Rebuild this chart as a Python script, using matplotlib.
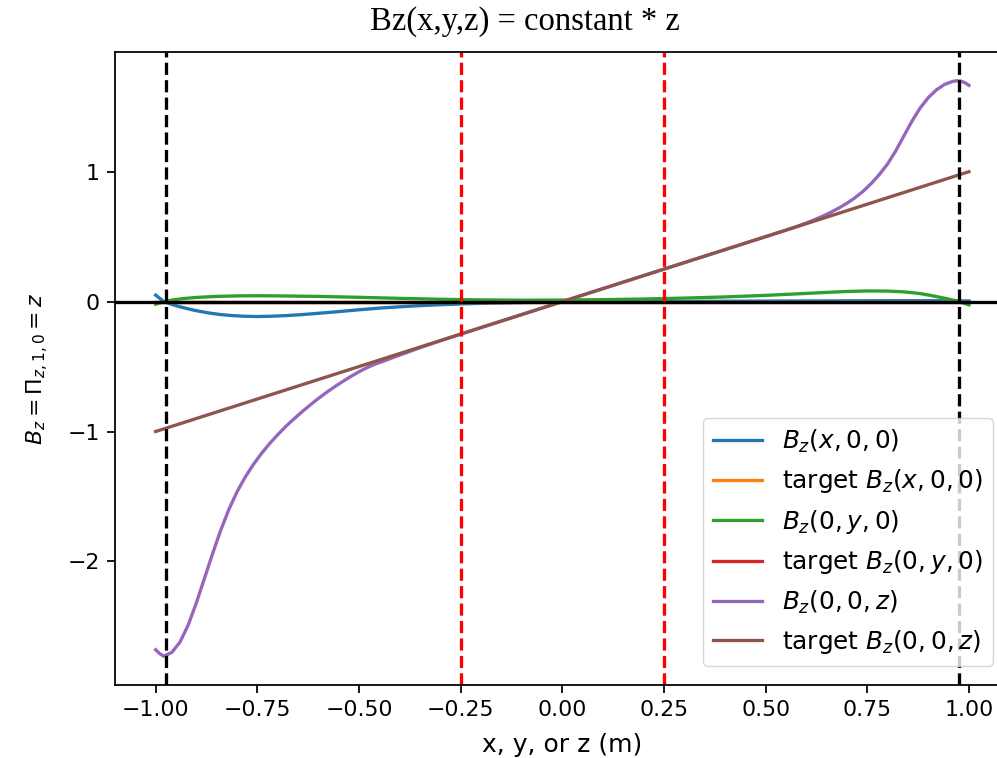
import matplotlib
matplotlib.use("Agg")
import matplotlib.pyplot as plt

# ---- data ----
x_blue = [-1.00, -0.99, -0.98, -0.96, -0.94, -0.92, -0.90, -0.87, -0.84, -0.81, -0.78,
          -0.75, -0.72, -0.68, -0.64, -0.60, -0.55, -0.50, -0.45, -0.40, -0.35,
          -0.30, -0.25, -0.20, -0.10, 0.00, 0.20, 0.40, 0.60, 0.80, 0.90, 0.95, 1.00]
bz_x = [0.05, 0.025, 0.0, -0.022, -0.04, -0.056, -0.07, -0.087, -0.1, -0.108, -0.113,
        -0.115, -0.113, -0.108, -0.1, -0.09, -0.077, -0.063, -0.05, -0.04, -0.031,
        -0.024, -0.018, -0.013, -0.007, -0.003, 0.0, 0.003, 0.005, 0.007, 0.007, 0.006, 0.005]

x_target = [-1.0, 1.0]
target_x = [0.0, 0.0]
target_y = [0.0, 0.0]
target_z = [-1.0, 1.0]

x_green = [-1.00, -0.99, -0.98, -0.96, -0.93, -0.90, -0.85, -0.80, -0.75, -0.70, -0.60,
           -0.50, -0.40, -0.30, -0.20, -0.10, 0.00, 0.10, 0.20, 0.30, 0.40, 0.50,
           0.60, 0.65, 0.70, 0.75, 0.80, 0.84, 0.88, 0.91, 0.94, 0.97, 1.00]
bz_y = [-0.02, -0.01, 0.0, 0.012, 0.024, 0.032, 0.04, 0.044, 0.045, 0.044, 0.04,
        0.033, 0.025, 0.018, 0.013, 0.011, 0.012, 0.015, 0.02, 0.027, 0.036, 0.048,
        0.063, 0.071, 0.078, 0.082, 0.081, 0.075, 0.062, 0.045, 0.026, 0.005, -0.025]

x_purple = [-1.00, -0.99, -0.98, -0.96, -0.94, -0.92, -0.90, -0.88, -0.86, -0.84, -0.82,
            -0.80, -0.78, -0.76, -0.74, -0.72, -0.70, -0.68, -0.66, -0.64, -0.62,
            -0.60, -0.58, -0.56, -0.54, -0.52, -0.50, -0.48, -0.46, -0.44, -0.42,
            -0.40, -0.35, -0.30, -0.20, 0.00, 0.20, 0.40, 0.50, 0.56, 0.58, 0.60,
            0.62, 0.64, 0.66, 0.68, 0.70, 0.72, 0.74, 0.76, 0.78, 0.80, 0.82, 0.84,
            0.86, 0.88, 0.90, 0.92, 0.94, 0.96, 0.97, 0.98, 0.99, 1.00]
bz_z = [-2.68, -2.71, -2.73, -2.70, -2.62, -2.49, -2.32, -2.13, -1.94, -1.76, -1.60,
        -1.465, -1.352, -1.255, -1.17, -1.094, -1.025, -0.961, -0.903, -0.848, -0.796,
        -0.746, -0.699, -0.656, -0.615, -0.576, -0.54, -0.508, -0.481, -0.459, -0.435,
        -0.412, -0.355, -0.302, -0.20, 0.00, 0.20, 0.40, 0.50, 0.56, 0.582, 0.605,
        0.63, 0.657, 0.687, 0.72, 0.757, 0.80, 0.85, 0.91, 0.98, 1.06, 1.16, 1.275,
        1.39, 1.49, 1.57, 1.63, 1.672, 1.695, 1.70, 1.698, 1.685, 1.665]

black_lines = [-0.975, 0.975]
red_lines = [-0.25, 0.25]

# ---- style ----
s = 1.58
plt.rcParams.update({
    "font.size": 10 * s,
    "lines.linewidth": 1.5 * s,
    "axes.linewidth": 0.8 * s,
    "xtick.major.size": 3.5 * s,
    "ytick.major.size": 3.5 * s,
    "xtick.major.width": 0.8 * s,
    "ytick.major.width": 0.8 * s,
    "xtick.major.pad": 3.5 * s,
    "ytick.major.pad": 3.5 * s,
})

fig = plt.figure(figsize=(9.97, 7.58), dpi=100)
ax = fig.add_axes([115 / 997, 73 / 758, 894.6 / 997, 633 / 758])

ax.plot(x_blue, bz_x, label="$B_z(x,0,0)$")
ax.plot(x_target, target_x, label="target $B_z(x,0,0)$")
ax.plot(x_green, bz_y, label="$B_z(0,y,0)$")
ax.plot(x_target, target_y, label="target $B_z(0,y,0)$")
ax.plot(x_purple, bz_z, label="$B_z(0,0,z)$")
ax.plot(x_target, target_z, label="target $B_z(0,0,z)$")

ax.axhline(0, color="k")
for v in black_lines:
    ax.axvline(v, color="k", linestyle="--")
for v in red_lines:
    ax.axvline(v, color="r", linestyle="--")

ax.set_xlim(-1.1, 1.1)
ax.spines["right"].set_visible(False)
ax.set_xticks([-1.0, -0.75, -0.5, -0.25, 0.0, 0.25, 0.5, 0.75, 1.0])
ax.set_yticks([-2, -1, 0, 1])
ax.set_xlabel("x, y, or z (m)", fontsize=18, labelpad=9)
ax.set_ylabel(r"$B_z = \Pi_{z,1,0} = z$")
ax.yaxis.set_label_coords(-0.072, 0.5)
ax.legend(loc="lower right", bbox_to_anchor=(993 / 997, 92 / 758),
          bbox_transform=fig.transFigure, borderaxespad=0, fontsize=17.8)

fig.text(525 / 997, 1 - 22 / 758, "Bz(x,y,z) = constant * z",
         family="Liberation Serif", fontsize=23.5, ha="center", va="center")

fig.savefig("out.png", dpi=100)
